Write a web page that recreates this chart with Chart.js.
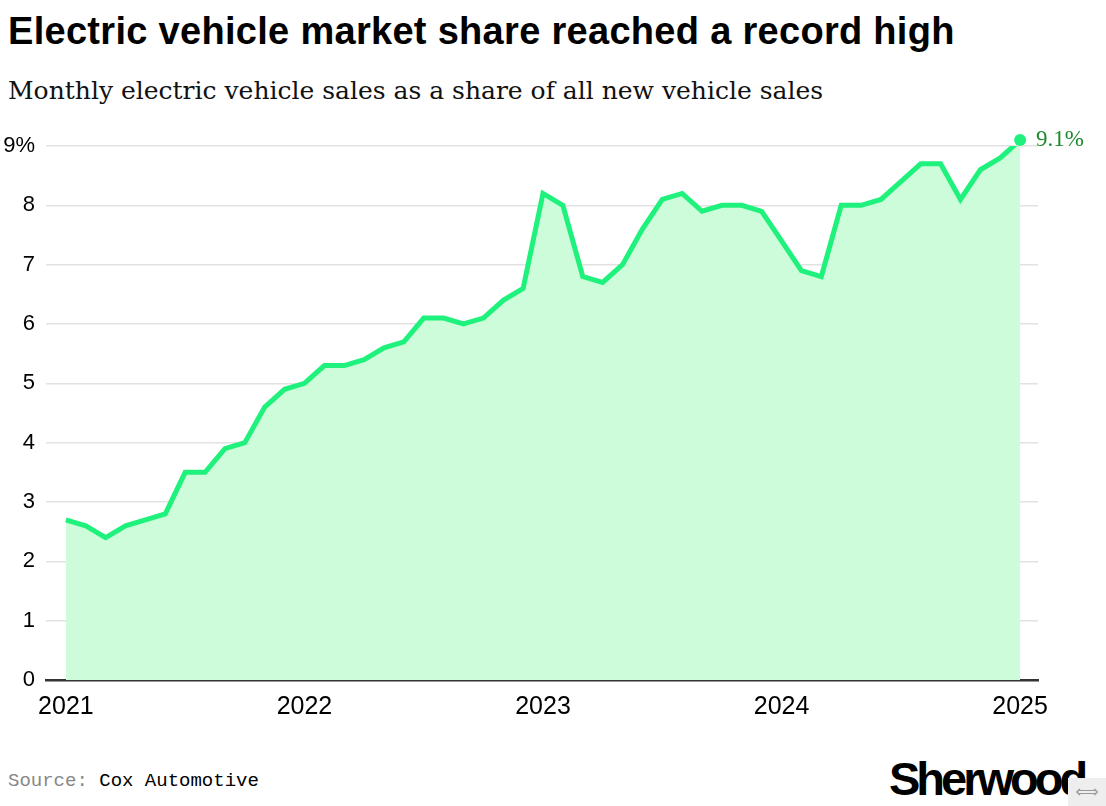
<!DOCTYPE html>
<html>
<head>
<meta charset="utf-8">
<script src="https://cdn.jsdelivr.net/npm/chart.js@4.4.1/dist/chart.umd.min.js"></script>
<style>
  html, body { margin: 0; padding: 0; background: #fff; }
  body { width: 1106px; height: 806px; position: relative; overflow: hidden; }
  #title {
    position: absolute; left: 8px; top: 10px;
    font: bold 38px "Liberation Sans", Arial, sans-serif;
    letter-spacing: 0.3px; color: #000; white-space: nowrap;
  }
  #subtitle {
    position: absolute; left: 8px; top: 76px;
    font: 25px "DejaVu Serif", "Liberation Serif", serif;
    color: #111; white-space: nowrap;
  }
  #wrap { position: absolute; left: 0; top: 120px; width: 1106px; height: 620px; }
  #source {
    position: absolute; left: 8px; top: 770px;
    font: 19px "Liberation Mono", "DejaVu Sans Mono", monospace; color: #000;
  }
  #source span { color: #888; }
  #logo {
    position: absolute; left: 889px; top: 751px;
    font: bold 47px "Liberation Sans", Arial, sans-serif;
    letter-spacing: -4px; color: #000;
  }
  #corner {
    position: absolute; left: 1068px; top: 778px; width: 38px; height: 28px;
    background: #eee; color: #999; font: 16px "DejaVu Sans", sans-serif;
    text-align: center; line-height: 28px;
  }
</style>
</head>
<body>
<div id="title">Electric vehicle market share reached a record high</div>
<div id="subtitle">Monthly electric vehicle sales as a share of all new vehicle sales</div>
<div id="wrap"><canvas id="chart"></canvas></div>
<div id="source"><span>Source:</span> Cox Automotive</div>
<div id="logo">Sherwood</div>
<div id="corner">⟺</div>
<script>
// months since Jan 2021
const months = [];
for (let i = 0; i <= 48; i++) months.push(i);

// EV share of new vehicle sales, %
const evShare = [
  2.7, 2.6, 2.4, 2.6, 2.7, 2.8, 3.5, 3.5, 3.9, 4.0, 4.6, 4.9,
  5.0, 5.3, 5.3, 5.4, 5.6, 5.7, 6.1, 6.1, 6.0, 6.1, 6.4, 6.6,
  8.2, 8.0, 6.8, 6.7, 7.0, 7.6, 8.1, 8.2, 7.9, 8.0, 8.0, 7.9,
  7.4, 6.9, 6.8, 8.0, 8.0, 8.1, 8.4, 8.7, 8.7, 8.1, 8.6, 8.8,
  9.1
];

const yearTicks = [0, 12, 24, 36, 48];
const yearLabels = ['2021', '2022', '2023', '2024', '2025'];
const yTicks = [0, 1, 2, 3, 4, 5, 6, 7, 8, 9];

const lineColor = '#1ef27c';

const endLabel = {
  id: 'endLabel',
  afterDatasetsDraw(chart) {
    const meta = chart.getDatasetMeta(0);
    const last = meta.data[meta.data.length - 1];
    const c = chart.ctx;
    c.save();
    c.beginPath();
    c.arc(last.x, last.y, 6, 0, Math.PI * 2);
    c.fillStyle = lineColor;
    c.fill();
    c.font = '23px "Liberation Serif", serif';
    c.fillStyle = '#1b8a2c';
    c.textBaseline = 'middle';
    c.fillText(evShare[evShare.length - 1].toFixed(1) + '%', last.x + 16, last.y);
    c.restore();
  }
};

new Chart(document.getElementById('chart'), {
  type: 'line',
  data: {
    labels: months,
    datasets: [{
      data: evShare.map((v, i) => ({ x: months[i], y: v })),
      borderColor: lineColor,
      borderWidth: 5,
      backgroundColor: '#ccfcd9',
      fill: 'origin',
      tension: 0,
      pointRadius: 0,
      borderJoinStyle: 'miter'
    }]
  },
  options: {
    responsive: true,
    maintainAspectRatio: false,
    animation: false,
    layout: { padding: { top: 26, right: 68, left: 0, bottom: 0 } },
    plugins: { legend: { display: false }, tooltip: { enabled: false } },
    scales: {
      x: {
        type: 'linear',
        min: -1.0,
        max: 48.9,
        afterBuildTicks(scale) { scale.ticks = yearTicks.map(v => ({ value: v })); },
        afterFit(scale) { scale.height = 60; },
        grid: { display: false, drawTicks: false },
        border: { display: true, color: '#333', width: 2.5 },
        ticks: {
          padding: 12,
          color: '#000',
          font: { family: '"Liberation Sans", Arial, sans-serif', size: 25 },
          maxRotation: 0,
          callback: (v) => yearLabels[yearTicks.indexOf(v)]
        }
      },
      y: {
        min: 0,
        max: 9,
        afterBuildTicks(scale) { scale.ticks = yTicks.map(v => ({ value: v })); },
        afterFit(scale) { scale.width = 46; },
        grid: { color: '#e2e2e2', lineWidth: 1.5, drawTicks: false },
        border: { display: false },
        ticks: {
          padding: 11,
          color: '#000',
          font: { family: '"Liberation Sans", Arial, sans-serif', size: 22 },
          callback: (v) => v === 9 ? '9%' : String(v)
        }
      }
    }
  },
  plugins: [endLabel]
});
</script>
</body>
</html>
